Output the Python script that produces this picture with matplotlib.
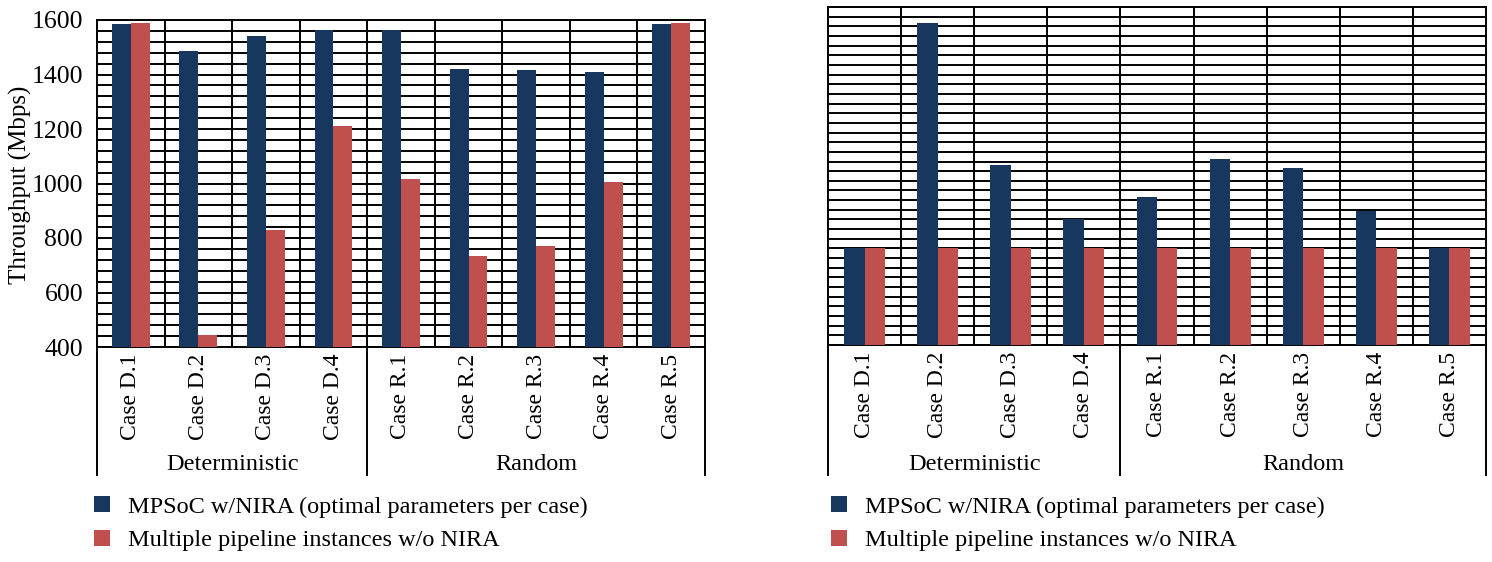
import numpy as np
import matplotlib
matplotlib.use("Agg")
import matplotlib.pyplot as plt
from matplotlib.patches import Patch
from matplotlib.lines import Line2D
from matplotlib.ticker import MultipleLocator, FixedLocator, NullFormatter

plt.rcParams['font.family'] = ['Liberation Serif', 'DejaVu Serif']

cases = ["Case D.1", "Case D.2", "Case D.3", "Case D.4",
         "Case R.1", "Case R.2", "Case R.3", "Case R.4", "Case R.5"]
groups = ["Deterministic", "Random"]
group_sizes = [4, 5]
series_names = ["MPSoC w/NIRA (optimal parameters per case)",
                "Multiple pipeline instances w/o NIRA"]

# Left chart: throughput (Mbps)
left_mpsoc = [1585, 1486, 1542, 1564, 1564, 1421, 1418, 1408, 1585]
left_pipeline = [1590, 445, 829, 1211, 1018, 734, 772, 1007, 1590]

# Right chart: unlabelled axis (gridline units)
right_mpsoc = [10.0, 33.3, 18.6, 13.0, 15.3, 19.3, 18.3, 13.9, 10.0]
right_pipeline = [10.0, 10.0, 10.0, 10.0, 10.0, 10.0, 10.0, 10.0, 10.0]

BLUE = "#17375E"
RED = "#C0504D"

fig = plt.figure(figsize=(14.92, 5.62), dpi=100)

W, H = 1492, 562


def make_axes(x0, x1, y0, y1):
    return fig.add_axes([x0 / W, 1 - y1 / H, (x1 - x0) / W, (y1 - y0) / H])


def draw(ax, a, b, ylim, minor_step, major_ticks, sep_bottom_px, group_y_px, ax_px):
    n = len(cases)
    x = np.arange(n)
    w = 0.28
    ax.bar(x - w / 2, a, w, color=BLUE, zorder=3)
    ax.bar(x + w / 2, b, w, color=RED, zorder=3)
    ax.set_xlim(-0.5, n - 0.5)
    ax.set_ylim(*ylim)
    ax.yaxis.set_minor_locator(MultipleLocator(minor_step))
    if major_ticks is not None:
        ax.set_yticks(major_ticks)
    else:
        ax.set_yticks([])
    ax.xaxis.set_minor_locator(FixedLocator(np.arange(n - 1) + 0.5))
    ax.xaxis.set_minor_formatter(NullFormatter())
    ax.set_xticks(x)
    ax.set_xticklabels(cases, rotation=90, fontsize=17, va="top", ha="center")
    ax.tick_params(axis="both", which="both", length=0)
    ax.tick_params(axis="x", pad=5)
    ax.tick_params(axis="y", labelsize=18.5, pad=10)
    ax.grid(True, axis="y", which="both", color="black", linewidth=1.4, zorder=1)
    ax.grid(True, axis="x", which="minor", color="black", linewidth=1.4, zorder=1)
    ax.set_axisbelow(True)
    for s in ax.spines.values():
        s.set_color("black")
        s.set_linewidth(1.4)
    ax_top, ax_bot = ax_px
    h = ax_bot - ax_top
    yb = -(sep_bottom_px - ax_bot) / h
    yg = -(group_y_px - ax_bot) / h
    trans = ax.get_xaxis_transform()
    pos = -0.5
    bounds = [pos]
    for gs in group_sizes:
        pos += gs
        bounds.append(pos)
    for bx in bounds:
        ax.add_line(Line2D([bx, bx], [0, yb], transform=trans, color="black",
                           linewidth=1.4, clip_on=False))
    for gi, g in enumerate(groups):
        cx = (bounds[gi] + bounds[gi + 1]) / 2
        ax.text(cx, yg, g, transform=trans, ha="center", va="center", fontsize=17.5)


axL = make_axes(97, 705, 20, 347)
draw(axL, left_mpsoc, left_pipeline, (400, 1600), 40, np.arange(400, 1601, 200),
     475, 465, (20, 347))
fig.text(20 / W, 1 - 185 / H, "Throughput (Mbps)", rotation=90, ha="center",
         va="center", fontsize=18)

axR = make_axes(828, 1486, 7, 345)
draw(axR, right_mpsoc, right_pipeline, (0, 35), 1, None,
     475, 465, (7, 345))

handles = [Patch(facecolor=BLUE, edgecolor="none"), Patch(facecolor=RED, edgecolor="none")]
for xpx in (94, 831):
    fig.legend(handles, series_names, loc="upper left",
               bbox_to_anchor=(xpx / W, 1 - 496 / H), frameon=False, fontsize=17.5,
               handlelength=0.65, handleheight=0.65, handletextpad=0.75,
               labelspacing=0.5, borderaxespad=0, borderpad=0)

fig.savefig("out.png", dpi=100)
